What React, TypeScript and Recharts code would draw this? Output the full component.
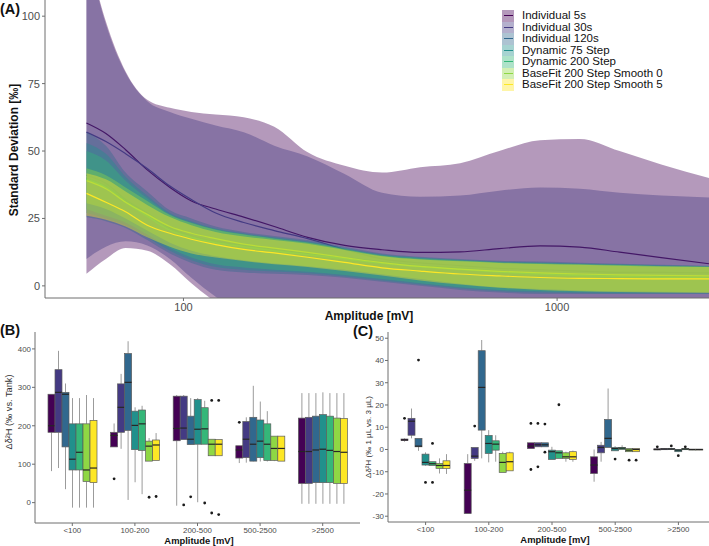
import React from "react";
import { ComposedChart, Area, Line, XAxis, YAxis, BarChart, Bar } from "recharts";

const FONT = "'Liberation Sans', Arial, sans-serif";
const AXIS = "#6e6e6e";
const TICK = "#4d4d4d";

const viridis = ["#440154", "#443A83", "#31688E", "#21908C", "#35B779", "#8FD744", "#FDE725"];
const seriesNames = [
  "Individual 5s",
  "Individual 30s",
  "Individual 120s",
  "Dynamic 75 Step",
  "Dynamic 200 Step",
  "BaseFit 200 Step Smooth 0",
  "BaseFit 200 Step Smooth 5",
];

// ---- panel A: standard deviation vs amplitude ----
const ampMv = [55, 62, 70, 80, 92, 105, 122, 145, 175, 215, 270, 340, 430, 550, 700, 900, 1150, 1470, 1900, 2550];

const ind5Mean = [60.4, 56.5, 50.5, 43, 36.5, 31.5, 28.5, 25.5, 22, 18, 15, 13.4, 12.4, 12.6, 13.8, 14.8, 14.4, 12.5, 10.5, 8.2];
const ind5Lo = [4.5, 10, 14, 13, 8, 1, -6, -12, -16, -18, -20, -20, -20, -20, -20, -20, -20, -20, -20, -20];
const ind5Hi = [125, 98, 79.5, 69, 66, 64.5, 63.5, 62.5, 59, 49.5, 44.5, 42, 44, 45.5, 50, 54, 54.5, 50, 45, 40];

const ind30Mean = [57, 53.5, 49, 43.5, 37, 32, 27, 23.5, 20.5, 17.5, 13.5, 10, 8.5, 7.5, 6.5, 6, 5.5, 5, 5, 4.8];
const ind30Lo = [10, 14.5, 16.5, 15, 10, 3, -4, -10, -14, -16, -18, -18, -18, -18, -18, -18, -18, -18, -18, -18];
const ind30Hi = [125, 97, 79, 68.5, 64.5, 62, 59.5, 57, 52, 48, 41.5, 34.5, 33, 33.5, 35.3, 36.5, 36, 34.5, 33.5, 32.8];

const ind120Mean = [41, 38, 32, 27, 21.5, 18.5, 16.5, 15, 13.5, 12, 10.5, 9, 7.5, 6.5, 5.5, 4.5, 4, 3.5, 3.3, 3];
const ind120Lo = [25.4, 24, 21.5, 17, 12, 8.5, 6, 5, 4.5, 4, 3, 1.5, 0, -1.5, -2.5, -3, -3, -3, -3, -3];
const ind120Hi = [57, 52, 42, 35, 28, 25, 22, 20, 18.5, 17, 14.5, 12, 10.8, 10, 9.3, 9, 8.6, 8.2, 7.8, 7.5];

const dyn75Mean = [40, 37, 31.5, 26, 21, 18.3, 16.3, 14.8, 13.3, 11.8, 10.2, 8.5, 7.2, 6.2, 5.3, 4.5, 4, 3.6, 3.3, 3.1];
const dyn75Lo = [27, 25, 22.5, 18, 13, 9.5, 7, 6, 5.3, 4.7, 3.5, 2, 0.5, -1, -2, -2.5, -2.7, -2.8, -2.8, -2.8];
const dyn75Hi = [53, 49, 40.5, 33.5, 27, 24, 21.3, 19.5, 18, 16.5, 14, 11.6, 10.5, 9.7, 9, 8.7, 8.3, 8, 7.6, 7.3];

const dyn200Mean = [39.5, 36.5, 31, 25.8, 20.6, 18, 16, 14.5, 13, 11.6, 10, 8.3, 7, 6, 5.1, 4.3, 3.8, 3.5, 3.2, 3];
const dyn200Lo = [28.5, 26, 23.5, 19, 14, 10.5, 8, 6.8, 6, 5.2, 4, 2.5, 1, -0.5, -1.5, -2, -2.3, -2.5, -2.5, -2.5];
const dyn200Hi = [50, 46.5, 39, 32.5, 26.5, 23.5, 21, 19.2, 17.7, 16.2, 13.8, 11.4, 10.3, 9.5, 8.8, 8.5, 8.1, 7.8, 7.4, 7.2];

const bf0Mean = [39, 36, 31, 26.5, 22, 19.5, 17.5, 15.5, 14, 12.4, 10.5, 8.6, 7.2, 6.2, 5.4, 4.8, 4.4, 4.1, 3.9, 3.7];
const bf0Lo = [30.6, 28.5, 25, 20.5, 16, 13, 11, 9.5, 8.3, 7.3, 6, 4.3, 2.5, 0.8, -0.5, -1.2, -1.7, -2, -2.2, -2.3];
const bf0Hi = [43.6, 41, 36.5, 31.5, 26.3, 23.3, 20.8, 19, 17.5, 16, 13.6, 11.2, 10, 9.3, 8.7, 8.3, 8, 7.7, 7.3, 7.1];

const bf5Mean = [34.3, 31, 27.5, 22.5, 19.5, 17.3, 15.3, 13.5, 12.2, 10.6, 8.7, 6.7, 5.5, 4.4, 3.7, 3.1, 2.8, 2.7, 2.6, 2.6];
const bf5Lo = [26, 24.5, 22, 18, 14.5, 12, 10.5, 9.2, 8, 7, 5.5, 3.8, 2, 0.5, -0.7, -1.5, -2, -2.3, -2.5, -2.6];
const bf5Hi = [41.8, 39.5, 35, 30, 25.5, 22.5, 20, 18.3, 17, 15.6, 13.3, 11, 9.8, 9.1, 8.5, 8.1, 7.8, 7.5, 7.2, 7];

const sdSeries = [
  [ind5Mean, ind5Lo, ind5Hi],
  [ind30Mean, ind30Lo, ind30Hi],
  [ind120Mean, ind120Lo, ind120Hi],
  [dyn75Mean, dyn75Lo, dyn75Hi],
  [dyn200Mean, dyn200Lo, dyn200Hi],
  [bf0Mean, bf0Lo, bf0Hi],
  [bf5Mean, bf5Lo, bf5Hi],
];

const rowsA = ampMv.map((x, k) => {
  const row: any = { x };
  sdSeries.forEach(([m, lo, hi], i) => {
    row["m" + i] = m[k];
    row["r" + i] = [lo[k], hi[k]];
  });
  return row;
});

// ---- panels B and C: box plots, [lower whisker, Q1, median, Q3, upper whisker, ...outliers] ----
const categories = ["<100", "100-200", "200-500", "500-2500", ">2500"];

const tankInd5 = [[82, 183, 200, 282, 282], [145, 145, 175, 183, 206, 62], [-8, 161, 193, 277, 280], [103, 116, 137, 148, 148, 209], [-3, 50, 133, 220, 285]];
const tankInd30 = [[90, 183, 287, 346, 395], [140, 183, 248, 309, 335], [164, 164, 194, 277, 280, -6], [104, 117, 165, 211, 222], [-3, 50, 133, 222, 285]];
const tankInd120 = [[35, 145, 282, 287, 310], [7, 188, 313, 388, 420], [150, 151, 165, 225, 272, 15], [107, 108, 152, 222, 304], [-3, 52, 137, 225, 285]];
const tankDyn75 = [[-13, 85, 113, 205, 272], [53, 138, 201, 238, 248], [1, 152, 191, 268, 272], [107, 117, 160, 215, 263], [-3, 52, 139, 229, 287]];
const tankDyn200 = [[-13, 85, 131, 205, 272], [22, 136, 205, 241, 252], [152, 152, 192, 247, 265, -1], [107, 110, 152, 205, 238], [-3, 52, 136, 225, 285]];
const tankBf0 = [[-13, 55, 85, 205, 280], [108, 108, 147, 160, 168, 14], [122, 122, 152, 165, 165, 266, -27], [108, 110, 141, 173, 173], [-3, 50, 133, 220, 285]];
const tankBf5 = [[-13, 52, 90, 214, 272], [110, 110, 150, 163, 181, 16], [122, 122, 152, 164, 164, 266, -31], [108, 108, 141, 173, 173], [-3, 50, 131, 219, 285]];

const volInd5 = [[3.5, 4, 4.3, 4.7, 5, 14], [-28.8, -28.8, -18.3, -6.3, -2.1], [0.4, 0.4, 1.5, 3, 3, 11.7, -9], [-14.5, -10.8, -7, -3.3, 0], [-0.3, -0.2, 0, 0.3, 0.5, 1.2]];
const volInd30 = [[5, 6.4, 12.7, 14, 18.4], [-5.1, -4, -3, 0.9, 0.9, 10.5], [1.2, 1.2, 2.1, 3, 3, 11.7, -7.8], [-5.5, -1.5, 0.9, 1.9, 3.4], [-0.2, -0.1, 0.2, 0.4, 0.6]];
const volInd120 = [[-0.6, 1.2, 1.5, 5, 5, 40.2], [-4, 8.7, 27.9, 44.4, 49.2], [1.2, 1.2, 2.1, 3, 3, 11.4, -1.2], [0.9, 0.9, 5, 13.5, 27.4], [-0.1, 0, 0.2, 0.5, 0.7, 1.6]];
const volDyn75 = [[-7.3, -7, -5.8, -2.1, -1.3, -14.8], [-5.8, -1.8, 2.7, 6.3, 8.7], [-4.5, -4.5, -1, -0.3, 1.2], [-0.6, -0.6, 0.4, 0.9, 1.5, -4.3], [-1.2, -1, -0.3, 0, 0.2, -2.8]];
const volDyn200 = [[-7.2, -7.2, -6.4, -5.5, -5.5, 2.7, -14.8], [-5.5, -0.3, 2.4, 3.9, 6.4], [-4, -4, -1.5, -0.6, -0.6, 20.1], [0, 0, 0.6, 0.9, 1.9], [-0.2, -0.1, 0.2, 0.4, 0.6, 1.2]];
const volBf0 = [[-10.8, -8.5, -7.2, -6.3, -4], [-10.3, -10.3, -5.8, -1.8, -1], [-5.5, -4, -3.3, -1.5, -1], [-1, -1, -0.3, 0.4, 0.4, -4.8], [-0.3, -0.2, 0, 0.1, 0.2]];
const volBf5 = [[-11, -8.5, -7.2, -5.1, -2.1], [-9.6, -9.6, -5.5, -1.5, -1], [-5.5, -4.5, -3.3, -1, -0.5], [-1, -1, 0, 0.4, 0.4, -4.8], [-0.3, -0.2, 0, 0.1, 0.2]];

const tankSeries = [tankInd5, tankInd30, tankInd120, tankDyn75, tankDyn200, tankBf0, tankBf5];
const volSeries = [volInd5, volInd30, volInd120, volDyn75, volDyn200, volBf0, volBf5];

const boxRows = (series: number[][][]) =>
  categories.map((cat, c) => ({ cat, boxes: series.map((s) => s[c]) }));

const boxExtent = (b: number[]) => [Math.min(b[0], ...b.slice(5)), Math.max(b[4], ...b.slice(5))];

function BoxShape(props: any) {
  const { x, y, width, height, payload, si, color } = props;
  const b = payload.boxes[si];
  if (!b) return null;
  const [lo, q1, med, q3, hi] = b;
  const out = b.slice(5);
  const [mn, mx] = boxExtent(b);
  const top = Math.min(y, y + height);
  const bot = Math.max(y, y + height);
  const py = (v: number) => bot - ((v - mn) / (mx - mn)) * (bot - top);
  const cx = x + width / 2;
  const boxTop = py(q3);
  const boxH = Math.max(py(q1) - boxTop, 0.8);
  return (
    <g>
      <line x1={cx} x2={cx} y1={py(hi)} y2={py(q3)} stroke="#9b9b9b" strokeWidth={1} />
      <line x1={cx} x2={cx} y1={py(q1)} y2={py(lo)} stroke="#9b9b9b" strokeWidth={1} />
      <rect x={x} y={boxTop} width={width} height={boxH} fill={color} stroke="#5c5c5c" strokeWidth={0.7} />
      <line x1={x} x2={x + width} y1={py(med)} y2={py(med)} stroke="#262626" strokeWidth={1.2} />
      {out.map((o: number, k: number) => (
        <circle key={k} cx={cx} cy={py(o)} r={1.4} fill="#1a1a1a" />
      ))}
    </g>
  );
}

function BoxPanel({ series, domain, ticks, width, yWidth, xHeight }: any) {
  const rows = boxRows(series);
  return (
    <BarChart
      width={width}
      height={220}
      data={rows}
      margin={{ top: 7, right: 0, left: 0, bottom: 0 }}
      barGap={0}
      barSize={7}
    >
      <XAxis
        dataKey="cat"
        interval={0}
        padding={{ left: 6, right: 6 }}
        height={xHeight}
        tick={{ fontSize: 7.9, fill: TICK, fontFamily: FONT }}
        tickSize={3}
        tickMargin={1.5}
        axisLine={{ stroke: AXIS }}
        tickLine={{ stroke: AXIS }}
      />
      <YAxis
        type="number"
        width={yWidth}
        domain={domain}
        ticks={ticks}
        allowDataOverflow
        tick={{ fontSize: 7.9, fill: TICK, fontFamily: FONT }}
        tickSize={3}
        tickMargin={1}
        axisLine={{ stroke: AXIS }}
        tickLine={{ stroke: AXIS }}
      />
      {seriesNames.map((name, i) => (
        <Bar
          key={name}
          name={name}
          dataKey={(r: any) => boxExtent(r.boxes[i])}
          fill={viridis[i]}
          isAnimationActive={false}
          shape={(p: any) => <BoxShape {...p} si={i} color={viridis[i]} />}
        />
      ))}
    </BarChart>
  );
}

function Text({ x, y, size, bold, rotate, color, children }: any) {
  return (
    <div
      style={{
        position: "absolute",
        left: x,
        top: y,
        transform: `translate(-50%, -50%)${rotate ? " rotate(-90deg)" : ""}`,
        fontSize: size,
        fontWeight: bold ? 700 : 400,
        whiteSpace: "nowrap",
        color: color || "#111",
        lineHeight: 1,
      }}
    >
      {children}
    </div>
  );
}

function LegendA() {
  return (
    <div style={{ position: "absolute", left: 502, top: 10 }}>
      {seriesNames.map((name, i) => (
        <div key={name} style={{ display: "flex", alignItems: "center", height: 11.5 }}>
          <div
            style={{
              width: 12,
              height: 11.5,
              position: "relative",
              background: viridis[i] + "66",
            }}
          >
            <div
              style={{ position: "absolute", left: 1.5, right: 1.5, top: 5, height: 1.4, background: viridis[i] }}
            />
          </div>
          <span style={{ marginLeft: 8, fontSize: 11.5, color: "#111", lineHeight: 1 }}>{name}</span>
        </div>
      ))}
    </div>
  );
}

export default function App() {
  return (
    <div
      style={{
        position: "absolute",
        left: 0,
        top: 0,
        width: 709,
        height: 546,
        overflow: "hidden",
        background: "#fff",
        fontFamily: FONT,
      }}
    >
      <div style={{ position: "absolute", left: 0, top: 0 }}>
        <ComposedChart width={709} height={318} data={rowsA} margin={{ top: 0, right: 0, left: 0, bottom: 0 }}>
          <XAxis
            dataKey="x"
            type="number"
            scale="log"
            domain={[42.6, 2550]}
            ticks={[100, 1000]}
            allowDataOverflow
            height={20}
            tick={{ fontSize: 11, fill: TICK, fontFamily: FONT }}
            tickSize={3}
            tickMargin={2}
            axisLine={{ stroke: AXIS }}
            tickLine={{ stroke: AXIS }}
          />
          <YAxis
            type="number"
            width={45}
            domain={[-4.5, 106]}
            ticks={[0, 25, 50, 75, 100]}
            allowDataOverflow
            tick={{ fontSize: 11, fill: TICK, fontFamily: FONT }}
            tickSize={3}
            tickMargin={2}
            axisLine={{ stroke: AXIS }}
            tickLine={{ stroke: AXIS }}
          />
          {seriesNames.flatMap((name, i) => [
            <Area
              key={"a" + i}
              name={name}
              dataKey={"r" + i}
              type="monotone"
              stroke="none"
              fill={viridis[i]}
              fillOpacity={0.4}
              isAnimationActive={false}
              zIndex={100 + 2 * i}
            />,
            <Line
              key={"l" + i}
              name={name}
              dataKey={"m" + i}
              type="monotone"
              stroke={viridis[i]}
              strokeWidth={1.2}
              dot={false}
              isAnimationActive={false}
              zIndex={101 + 2 * i}
            />,
          ])}
        </ComposedChart>
      </div>
      <LegendA />

      <div style={{ position: "absolute", left: 0, top: 325 }}>
        <BoxPanel series={tankSeries} domain={[-53, 444]} ticks={[0, 100, 200, 300, 400]} width={360} yWidth={35} xHeight={22} />
      </div>
      <div style={{ position: "absolute", left: 350, top: 325 }}>
        <BoxPanel
          series={volSeries}
          domain={[-32.6, 52.8]}
          ticks={[-30, -20, -10, 0, 10, 20, 30, 40, 50]}
          width={366}
          yWidth={38}
          xHeight={23}
        />
      </div>

      <Text x={10} y={9} size={14.5} bold>(A)</Text>
      <Text x={14} y={150} size={12} bold rotate>Standard Deviation [‰]</Text>
      <Text x={369} y={316} size={12} bold>Amplitude [mV]</Text>

      <Text x={10} y={330} size={14.5} bold>(B)</Text>
      <Text x={10} y={412} size={9.2} rotate color="#333">Δδ²H (‰ vs. Tank)</Text>
      <Text x={199} y={541} size={9.4} bold>Amplitude [mV]</Text>

      <Text x={363} y={331} size={14.5} bold>(C)</Text>
      <Text x={369} y={437} size={8} rotate color="#333">Δδ²H (‰ 1 µL vs. 3 µL)</Text>
      <Text x={555} y={540} size={9.4} bold>Amplitude [mV]</Text>
    </div>
  );
}
